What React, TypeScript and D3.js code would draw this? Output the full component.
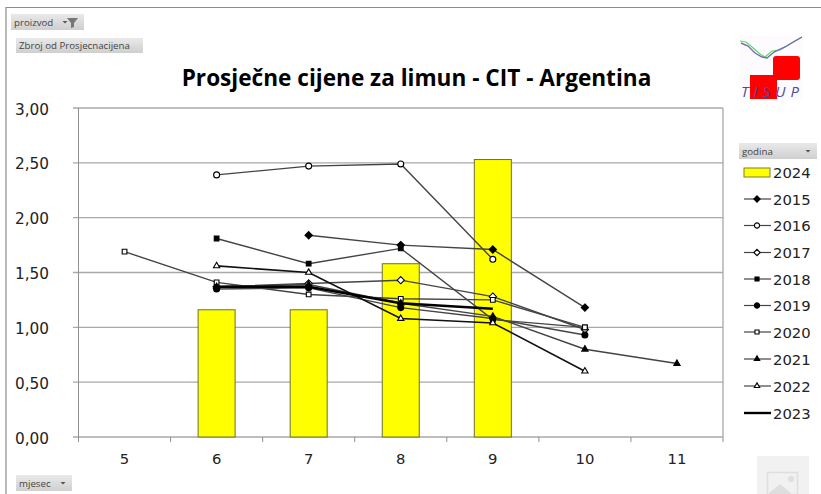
import React from "react";
import * as d3 from "d3";

const months = ["5", "6", "7", "8", "9", "10", "11"];
const yTicks = [0, 0.5, 1, 1.5, 2, 2.5, 3];
const bars2024: [string, number][] = [["6", 1.16], ["7", 1.16], ["8", 1.58], ["9", 2.53]];
const s2015: [string, number][] = [["7", 1.84], ["8", 1.75], ["9", 1.71], ["10", 1.18]];
const s2016: [string, number][] = [["6", 2.39], ["7", 2.47], ["8", 2.49], ["9", 1.62]];
const s2017: [string, number][] = [["6", 1.37], ["7", 1.4], ["8", 1.43], ["9", 1.28], ["10", 0.98]];
const s2018: [string, number][] = [["6", 1.81], ["7", 1.58], ["8", 1.72], ["9", 1.07], ["10", 1.0]];
const s2019: [string, number][] = [["6", 1.35], ["7", 1.36], ["8", 1.18], ["9", 1.08], ["10", 0.93]];
const s2020: [string, number][] = [["5", 1.69], ["6", 1.41], ["7", 1.3], ["8", 1.26], ["9", 1.25], ["10", 1.0]];
const s2021: [string, number][] = [["6", 1.37], ["7", 1.39], ["8", 1.22], ["9", 1.1], ["10", 0.8], ["11", 0.67]];
const s2022: [string, number][] = [["6", 1.56], ["7", 1.5], ["8", 1.08], ["9", 1.04], ["10", 0.6]];
const s2023: [string, number][] = [["6", 1.37], ["7", 1.37], ["8", 1.22], ["9", 1.17]];

type Marker = "diamond" | "circle" | "square" | "triangle" | "none";
const seriesNames = ["2015", "2016", "2017", "2018", "2019", "2020", "2021", "2022", "2023"];
const seriesData = [s2015, s2016, s2017, s2018, s2019, s2020, s2021, s2022, s2023];
const markers: Marker[] = ["diamond", "circle", "diamond", "square", "circle", "square", "triangle", "triangle", "none"];
const filled = [true, false, false, true, true, false, true, false, true];

const x = d3.scaleBand<string>().domain(months).range([78.5, 723]);
const y = d3.scaleLinear().domain([0, 3]).range([437, 108]);
const cx = (m: string) => (x(m) as number) + x.bandwidth() / 2;
const lineGen = d3.line<[string, number]>().x((d) => cx(d[0])).y((d) => y(d[1]));

const symbolPath = (m: Marker, size: number) => {
  const t = m === "diamond" ? d3.symbolDiamond2 : m === "square" ? d3.symbolSquare : m === "triangle" ? d3.symbolTriangle : d3.symbolCircle;
  return d3.symbol(t as any, size)() as string;
};
const markerSize: Record<string, number> = { diamond: 34, circle: 28, square: 22, triangle: 17 };

function Mark({ m, fill, px, py, k = 1 }: { m: Marker; fill: boolean; px: number; py: number; k?: number }) {
  if (m === "none") return null;
  return <path d={symbolPath(m, markerSize[m] * k)} transform={`translate(${px},${py})`} fill={fill ? "#000" : "#fff"} stroke="#000" strokeWidth={1.1} />;
}

function Button({ bx, by, w, h, label, arrowX, fs = 9.7 }: { bx: number; by: number; w: number; h: number; label: string; arrowX?: number; fs?: number }) {
  return (
    <g>
      <rect x={bx} y={by} width={w} height={h} fill="url(#btn)" />
      <text x={bx + 3} y={by + h - 4.5} fontFamily="'Open Sans'" fontSize={fs} fill="#444">{label}</text>
      {arrowX !== undefined && <path d={`M${arrowX - 2.5},${by + h / 2 - 1}h5l-2.5,2.5z`} fill="#555" />}
    </g>
  );
}

export default function App() {
  const legendX = 744;
  const legendYs = [199, 225.5, 252.5, 279, 305.5, 332, 359, 386, 413];
  return (
    <svg width={821} height={494} style={{ position: "fixed", left: 0, top: 0, background: "#fff" }}>
      <defs>
        <linearGradient id="btn" x1="0" y1="0" x2="0" y2="1">
          <stop offset="0" stopColor="#e9e9e9" />
          <stop offset="1" stopColor="#cfcfcf" />
        </linearGradient>
      </defs>
      <path d="M6,494V7.5H821" fill="none" stroke="#8c8c8c" strokeWidth={1.2} />

      <Button bx={11} by={14} w={73} h={16} label="proizvod" arrowX={65} />
      <path d="M67,18h11l-4,5v4l-3,1v-5z" fill="#777" />
      <Button bx={16} by={38} w={127} h={15} label="Zbroj od Prosjecnacijena" />
      <Button bx={16} by={475} w={56} h={16} label="mjesec" arrowX={63} />
      <Button bx={739} by={143} w={78} h={16} label="godina" arrowX={808} />

      <text x={416.5} y={86} textAnchor="middle" fontFamily="'Open Sans'" fontWeight={700} fontSize={22.6} fill="#000">Prosječne cijene za limun - CIT - Argentina</text>

      {yTicks.map((t) => (
        <g key={t}>
          <line x1={73} x2={723} y1={y(t)} y2={y(t)} stroke="#a8a8a8" strokeWidth={1.3} />
          <text x={49} y={y(t) + 6.5} textAnchor="end" fontFamily="'DejaVu Sans'" fontSize={15.3} fill="#222">{d3.format(".2f")(t).replace(".", ",")}</text>
        </g>
      ))}
      <line x1={723} x2={723} y1={108} y2={442} stroke="#a8a8a8" strokeWidth={1.3} />
      <line x1={78.5} x2={78.5} y1={108} y2={442} stroke="#909090" strokeWidth={1} />
      {months.map((m) => (
        <g key={m}>
          <line x1={x(m)} x2={x(m)} y1={437} y2={442} stroke="#909090" />
          <text x={cx(m)} y={464} textAnchor="middle" fontFamily="'DejaVu Sans'" fontSize={14.8} fill="#222">{m}</text>
        </g>
      ))}

      {bars2024.map(([m, v]) => (
        <rect key={m} x={cx(m) - 18.5} y={y(v)} width={37} height={437 - y(v)} fill="#ffff00" stroke="#6f6f30" strokeWidth={1} />
      ))}

      {seriesData.map((s, i) => (
        <g key={seriesNames[i]}>
          <path d={lineGen(s) as string} fill="none" stroke={i === 8 ? "#000" : i === 7 ? "#111" : "#444"} strokeWidth={i === 8 ? 2.4 : i === 7 ? 1.6 : 1.4} />
          {s.map(([m, v]) => <Mark key={m} m={markers[i]} fill={filled[i]} px={cx(m)} py={y(v)} />)}
        </g>
      ))}

      <rect x={744} y={168} width={26} height={9} fill="#ffff00" stroke="#7d7d3a" strokeWidth={1} />
      <text x={773} y={178} fontFamily="'DejaVu Sans'" fontSize={14.8} fill="#222">2024</text>
      {seriesNames.map((n, i) => (
        <g key={n}>
          <line x1={legendX} x2={771} y1={legendYs[i]} y2={legendYs[i]} stroke={i === 8 ? "#000" : "#444"} strokeWidth={i === 8 ? 2.4 : 1.2} />
          <Mark m={markers[i]} fill={filled[i]} px={757} py={legendYs[i]} k={0.75} />
          <text x={773} y={legendYs[i] + 5.5} fontFamily="'DejaVu Sans'" fontSize={14.8} fill="#222">{n}</text>
        </g>
      ))}

      {/* logo */}
      <g>
        <rect x={740} y={36} width={62} height={63} fill="#fdfbfd" />
        <rect x={773} y={56} width={27} height={24} rx={3} fill="#ff0000" />
        <rect x={750} y={75} width={27} height={24} fill="#ff0000" />
        <path d="M740,41 L746,42 L752,47 L760,54 L765,57 L772,51 L780,50 L790,44 L802,37" fill="none" stroke="#55e060" strokeWidth={1.2} />
        <path d="M741,43 L748,46 L755,53 L762,57 L767,58 L774,52 L785,47 L795,41 L802,37" fill="none" stroke="#7a68b8" strokeWidth={1.4} />
        <text x={741} y={97} textLength={58} fontFamily="'Open Sans'" fontStyle="italic" fontSize={15} fill="#4a4aa8">TISUP</text>
      </g>

      {/* image placeholder */}
      <g>
        <rect x={757} y={456} width={52} height={38} fill="#f1f1f1" />
        <rect x={767.5} y={472.5} width={30} height={22} fill="none" stroke="#dedede" strokeWidth={1.5} />
        <circle cx={791} cy={479} r={3} fill="#dedede" />
        <path d="M768,494 L780,484 L792,494z" fill="#dedede" />
      </g>
    </svg>
  );
}
